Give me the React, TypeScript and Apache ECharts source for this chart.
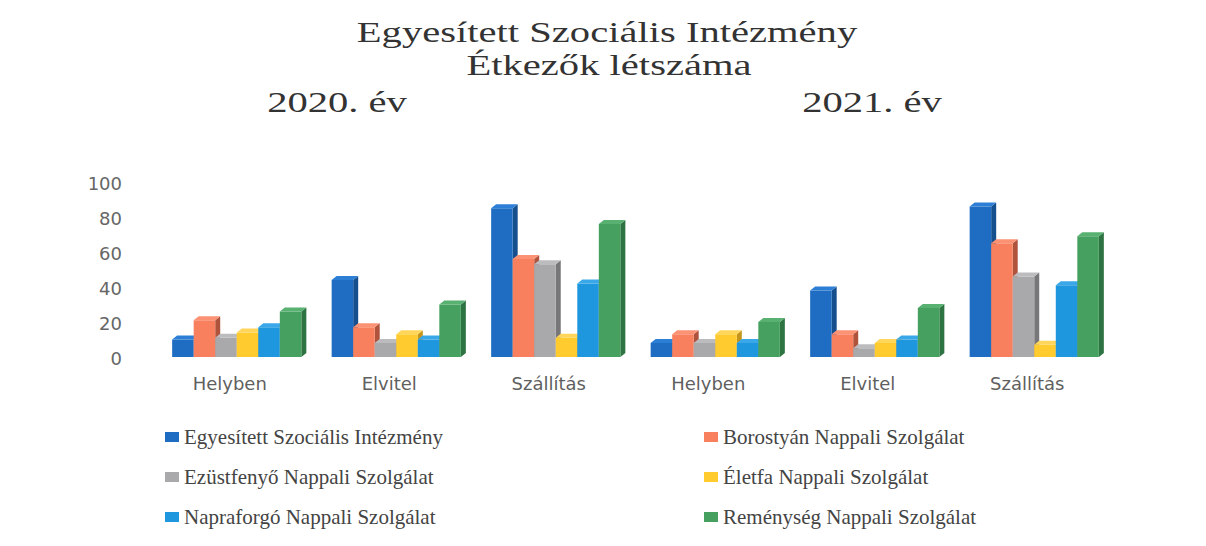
import React, { useEffect, useRef } from "react";
import * as echarts from "echarts";

const categories = ["Helyben", "Elvitel", "Szállítás", "Helyben", "Elvitel", "Szállítás"];
const seriesNames = [
  "Egyesített Szociális Intézmény",
  "Borostyán Nappali Szolgálat",
  "Ezüstfenyő Nappali Szolgálat",
  "Életfa Nappali Szolgálat",
  "Napraforgó Nappali Szolgálat",
  "Reménység Nappali Szolgálat",
];
const egyesitett = [10, 44, 85, 8, 38, 86];
const borostyan = [21, 17, 56, 13, 13, 65];
const ezustfenyo = [11, 8, 53, 8, 5, 46];
const eletfa = [14, 13, 11, 13, 8, 7];
const napraforgo = [17, 10, 42, 8, 10, 41];
const remenyseg = [26, 30, 76, 20, 28, 69];
const seriesValues = [egyesitett, borostyan, ezustfenyo, eletfa, napraforgo, remenyseg];
const yTicks = { min: 0, max: 100, interval: 20 };
const titleLines = ["Egyesített Szociális Intézmény", "Étkezők létszáma"];
const yearLabels = ["2020. év", "2021. év"];

const frontColors = ["#1f6dc2", "#f9805f", "#a9a9ac", "#ffcb2e", "#1f97de", "#46a160"];
const sideColors = ["#164f8e", "#b0533d", "#77777a", "#c4951a", "#1569a0", "#2e7342"];
const topColors = ["#2d7fd6", "#fb9274", "#bcbcbf", "#ffd65a", "#3aa8e8", "#58b071"];

export default function App() {
  const ref = useRef<HTMLDivElement>(null);
  useEffect(() => {
    document.body.style.margin = "0";
    const chart = echarts.init(ref.current!, null, { renderer: "svg" });
    const depth = 5;
    const capH = 4;
    const renderItem = (params: any, api: any) => {
      const ci = api.value(0);
      const v = api.value(1);
      const top = api.coord([ci, v]);
      const base = api.coord([ci, 0]);
      const catW = api.size([1, 0])[0];
      const bw = catW * 0.135;
      const si = params.seriesIndex;
      const x0 = top[0] + 7 + (si - 3) * bw;
      const x1 = x0 + bw;
      const yT = top[1] - 1;
      const yB = base[1] - 1;
      return {
        type: "group",
        children: [
          {
            type: "polygon",
            shape: { points: [[x1, yT], [x1 + depth, yT - capH], [x1 + depth, yB - capH], [x1, yB]] },
            style: { fill: sideColors[si] },
          },
          {
            type: "rect",
            shape: { x: x0, y: yT, width: bw, height: yB - yT },
            style: { fill: frontColors[si] },
          },
          {
            type: "polygon",
            shape: { points: [[x0, yT], [x0 + depth, yT - capH], [x1 + depth, yT - capH], [x1, yT]] },
            style: { fill: topColors[si] },
          },
        ],
      };
    };
    const titleFont = '29px "Liberation Serif", "Times New Roman", serif';
    const mkText = (text: string, x: number, y: number) => ({
      type: "text",
      x,
      y,
      scaleX: 1.4,
      style: {
        text,
        x: 0,
        y: 0,
        font: titleFont,
        fill: "#333333",
        textAlign: "center",
        textVerticalAlign: "middle",
      },
    });
    const legendText = {
      fontFamily: '"Liberation Serif", "Times New Roman", serif',
      fontSize: 21,
      color: "#444444",
      lineHeight: 22,
    };
    const legendBase = {
      orient: "vertical",
      top: 426,
      itemGap: 18,
      itemWidth: 14,
      itemHeight: 10,
      icon: "rect",
      padding: 0,
      textStyle: legendText,
    };
    chart.setOption({
      animation: false,
      color: frontColors,
      graphic: [
        mkText(titleLines[0], 607, 33),
        mkText(titleLines[1], 609, 66),
        mkText(yearLabels[0], 337, 103),
        mkText(yearLabels[1], 872, 103),
      ],
      legend: [
        { ...legendBase, left: 165, data: [seriesNames[0], seriesNames[2], seriesNames[4]] },
        { ...legendBase, left: 704, data: [seriesNames[1], seriesNames[3], seriesNames[5]] },
      ],
      grid: { left: 150, right: 99, top: 183, bottom: 188 },
      xAxis: {
        type: "category",
        data: categories,
        axisLine: { show: false },
        axisTick: { show: false },
        axisLabel: {
          interval: 0,
          margin: 16,
          color: "#5f5f5f",
          fontFamily: '"DejaVu Sans", sans-serif',
          fontSize: 18,
        },
      },
      yAxis: {
        type: "value",
        min: yTicks.min,
        max: yTicks.max,
        interval: yTicks.interval,
        axisLine: { show: false },
        axisTick: { show: false },
        splitLine: { show: false },
        axisLabel: {
          margin: 28,
          color: "#666666",
          fontFamily: '"DejaVu Sans", sans-serif',
          fontSize: 18,
        },
      },
      series: seriesValues.map((vals, si) => ({
        type: "custom",
        name: seriesNames[si],
        itemStyle: { color: frontColors[si] },
        encode: { x: 0, y: 1 },
        data: vals.map((v, i) => [i, v]),
        renderItem,
      })),
    });
    return () => chart.dispose();
  }, []);
  return <div ref={ref} style={{ width: 1206, height: 546 }} />;
}
